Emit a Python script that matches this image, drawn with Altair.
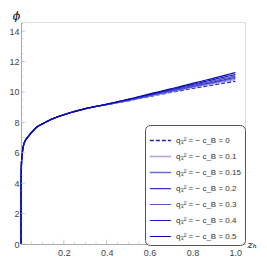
import altair as alt
import pandas as pd

# shared part of the curves (all series coincide here)
z_head = [0, 0.0003, 0.001, 0.002, 0.004, 0.007, 0.012, 0.02, 0.03, 0.05, 0.075, 0.1, 0.15, 0.2, 0.3]
phi_head = [0, 3.0, 4.5, 5.2, 5.7, 6.1, 6.5, 6.8, 7.0, 7.35, 7.7, 7.9, 8.25, 8.5, 8.9]

# part where the series separate
z_tail = [0.4, 0.5, 0.6, 0.7, 0.8, 0.9, 1.0]
phi_tail = {
    "0":    [9.16, 9.42, 9.70, 9.97, 10.23, 10.47, 10.70],
    "0.1":  [9.17, 9.44, 9.73, 10.01, 10.29, 10.55, 10.81],
    "0.15": [9.17, 9.45, 9.75, 10.04, 10.33, 10.61, 10.89],
    "0.2":  [9.18, 9.46, 9.77, 10.07, 10.37, 10.66, 10.96],
    "0.3":  [9.18, 9.48, 9.80, 10.11, 10.42, 10.73, 11.05],
    "0.4":  [9.19, 9.50, 9.83, 10.16, 10.49, 10.82, 11.15],
    "0.5":  [9.20, 9.52, 9.87, 10.21, 10.56, 10.91, 11.27],
}
params = ["0", "0.1", "0.15", "0.2", "0.3", "0.4", "0.5"]
colors = ["#2323b8", "#a3a3e6", "#6a6ae4", "#3838cc", "#5555c4", "#1818c8", "#0a0aa6"]
dashes = [[4, 2], [1, 0], [1, 0], [1, 0], [1, 0], [1, 0], [1, 0]]
widths = [1.3, 1.2, 1.2, 1.5, 2.0, 2.2, 2.6]

x_major = [0.2, 0.4, 0.6, 0.8, 1.0]
x_minor = [i * 0.05 for i in range(1, 21)]
y_major = [0, 2, 4, 6, 8, 10, 12, 14]
y_minor = [i * 0.5 for i in range(1, 30)]

labels = ["q\u2083\u00b2 = \u2212 c_B = " + p for p in params]

rows = []
for p, lab in zip(params, labels):
    for z, v in zip(z_head + z_tail, phi_head + phi_tail[p]):
        rows.append({"z": z, "phi": v, "series": lab})
df = pd.DataFrame(rows)

W, H = 224, 222
xs = alt.Scale(domain=[0, 1.045], nice=False, zero=False)
ys = alt.Scale(domain=[0, 14.6], nice=False, zero=False)

x_axis = alt.Axis(
    values=x_major, format=".1f", ticks=False, grid=False, labelOverlap=False,
    domainColor="#aaaaaa", labelColor="#444444", labelFontSize=9,
    labelFont="Liberation Sans", labelPadding=4,
    title="z\u2095", titleFont="DejaVu Serif", titleFontStyle="italic",
    titleFontWeight="normal", titleFontSize=10, titleAngle=0,
    titleAlign="left", titleBaseline="middle", titleX=W + 2, titleY=0)
y_axis = alt.Axis(
    values=y_major, format="d", ticks=False, grid=False, labelOverlap=False,
    domainColor="#aaaaaa", labelColor="#444444", labelFontSize=9,
    labelFont="Liberation Sans", labelPadding=2,
    title="\u03d5", titleFont="DejaVu Serif", titleFontStyle="italic",
    titleFontWeight="normal", titleFontSize=11, titleAngle=0,
    titleAlign="center", titleBaseline="bottom", titleX=-5, titleY=-1)

lines = alt.Chart(df).mark_line(interpolate="monotone").encode(
    x=alt.X("z:Q", scale=xs, axis=x_axis, title="z\u2095"),
    y=alt.Y("phi:Q", scale=ys, axis=y_axis, title="\u03d5"),
    color=alt.Color("series:N", scale=alt.Scale(domain=labels, range=colors),
                    legend=alt.Legend(
                        title=None, orient="none", legendX=124, legendY=103,
                        symbolType="stroke", symbolSize=450, symbolStrokeWidth=1.6,
                        labelFontSize=8, labelFont="Liberation Sans", labelColor="#333333",
                        rowPadding=0, fillColor="white", strokeColor="#555555",
                        cornerRadius=5, padding=4, labelOffset=4)),
    strokeDash=alt.StrokeDash("series:N", scale=alt.Scale(domain=labels, range=dashes), legend=None),
    strokeWidth=alt.StrokeWidth("series:N", scale=alt.Scale(domain=labels, range=widths), legend=None),
    order=alt.Order("series:N"),
)

xt_minor = alt.Chart(pd.DataFrame({"z": x_minor})).mark_tick(
    color="#aaaaaa", thickness=0.6, size=2.5
).encode(x=alt.X("z:Q", scale=xs, axis=x_axis, title="z\u2095"), y=alt.value(H - 1.25))
xt_major = alt.Chart(pd.DataFrame({"z": x_major})).mark_tick(
    color="#aaaaaa", thickness=0.7, size=4.5
).encode(x=alt.X("z:Q", scale=xs, axis=x_axis, title="z\u2095"), y=alt.value(H - 2.25))
yt_minor = alt.Chart(pd.DataFrame({"phi": y_minor})).mark_tick(
    color="#aaaaaa", thickness=0.6, size=2.5
).encode(y=alt.Y("phi:Q", scale=ys, axis=y_axis, title="\u03d5"), x=alt.value(1.25))
yt_major = alt.Chart(pd.DataFrame({"phi": y_major})).mark_tick(
    color="#aaaaaa", thickness=0.7, size=4.5
).encode(y=alt.Y("phi:Q", scale=ys, axis=y_axis, title="\u03d5"), x=alt.value(2.25))

chart = alt.layer(lines, xt_minor, xt_major, yt_minor, yt_major).properties(
    width=W, height=H,
    padding={"left": 13, "top": 14, "right": 14, "bottom": 14},
    autosize=alt.AutoSizeParams(type="none"),
).configure_view(stroke=None).configure(background="white")

chart.save("out.html", embed_options={"renderer": "svg", "actions": False})
